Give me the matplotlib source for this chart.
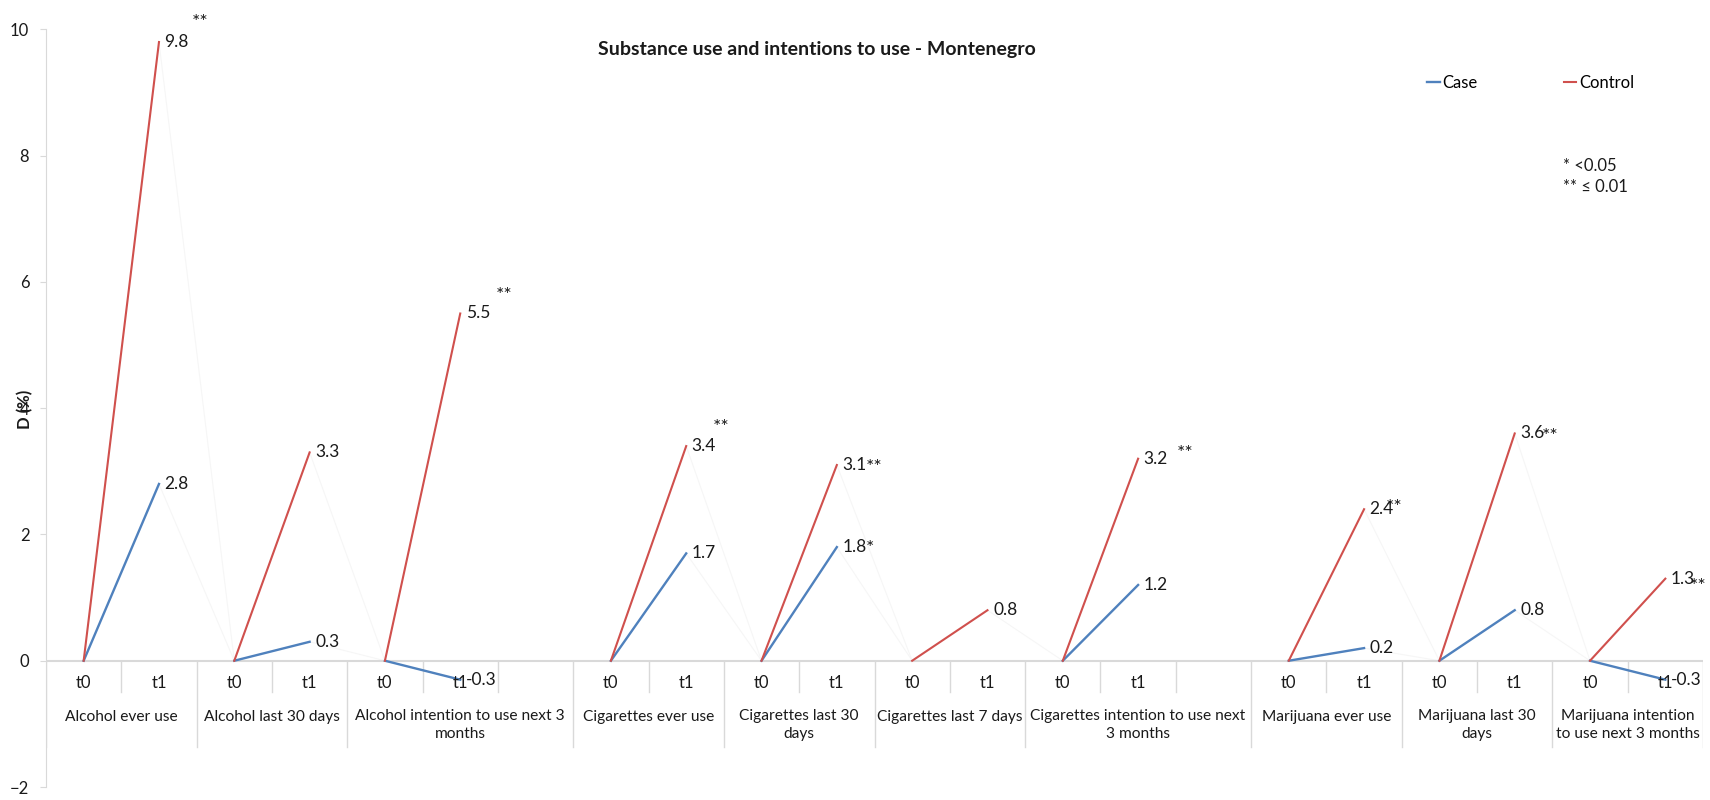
"""
Substance use and intentions to use - Montenegro (case vs control, t0 -> t1).
"""
import numpy as np
import matplotlib
matplotlib.use('Agg')
import matplotlib.pyplot as plt

plt.rcParams['font.family'] = ['Lato', 'DejaVu Sans']

groups = ['Alcohol ever use', 'Alcohol last 30 days',
          'Alcohol intention to use next 3\nmonths', 'Cigarettes ever use',
          'Cigarettes last 30\ndays', 'Cigarettes last 7 days',
          'Cigarettes intention to use next\n3 months', 'Marijuana ever use',
          'Marijuana last 30\ndays', 'Marijuana intention\nto use next 3 months']
n_slots = [2, 2, 3, 2, 2, 2, 3, 2, 2, 2]   # 3 = one empty slot after t1
times = ['t0', 't1']

case_t0 = [0, 0, 0, 0, 0, 0, 0, 0, 0, 0]
case_t1 = [2.8, 0.3, -0.3, 1.7, 1.8, np.nan, 1.2, 0.2, 0.8, -0.3]
control_t0 = [0, 0, 0, 0, 0, 0, 0, 0, 0, 0]
control_t1 = [9.8, 3.3, 5.5, 3.4, 3.1, 0.8, 3.2, 2.4, 3.6, 1.3]

case_sig = ['', '', '', '', '*', '', '', '', '', '']
control_sig = ['**', '', '**', '**', '**', '', '**', '**', '**', '**']

# where each star mark sits, relative to its t1 point (slots, D units)
case_sig_pos = {4: (0.44, -0.02)}
control_sig_pos = {0: (0.55, 0.31), 2: (0.58, 0.28), 3: (0.46, 0.3), 4: (0.5, -0.04),
                   6: (0.63, 0.08), 7: (0.4, 0.02), 8: (0.47, -0.05), 9: (0.43, -0.12)}

BLUE = '#4f81bd'
RED = '#d0504d'
GREY = '#d9d9d9'
TXT = '#1a1a1a'

starts = np.concatenate([[0], np.cumsum(n_slots)[:-1]])
n_total = sum(n_slots)

# full series over all slots (gaps stay NaN) -> faint joining lines like the Excel chart
case_all = np.full(n_total, np.nan)
ctrl_all = np.full(n_total, np.nan)
for g, s in enumerate(starts):
    case_all[s], case_all[s + 1] = case_t0[g], case_t1[g]
    ctrl_all[s], ctrl_all[s + 1] = control_t0[g], control_t1[g]

fig = plt.figure(figsize=(17.1, 8), dpi=100)
ax = fig.add_axes([46 / 1710, 1 - 787 / 800, (1703 - 46) / 1710, (787 - 29.4) / 800])

xs = np.arange(n_total)
ax.plot(xs, case_all, color='#f6f6f6', lw=0.8, zorder=1)
ax.plot(xs, ctrl_all, color='#f6f6f6', lw=0.8, zorder=1)

for g, s in enumerate(starts):
    x0, x1 = s, s + 1
    ax.plot([x0, x1], [case_t0[g], case_t1[g]], color=BLUE, lw=1.7, zorder=3,
            label='Case' if g == 0 else None)
    ax.plot([x0, x1], [control_t0[g], control_t1[g]], color=RED, lw=1.5, zorder=4,
            label='Control' if g == 0 else None)
    for v in (case_t1[g], control_t1[g]):
        if not np.isnan(v):
            ax.annotate(f'{v:.1f}', (x1, v), xytext=(4, 0), textcoords='offset points',
                        ha='left', va='center', fontsize=12.5, color=TXT, zorder=5)
    if case_sig[g]:
        dx, dy = case_sig_pos[g]
        ax.text(x1 + dx, case_t1[g] + dy, case_sig[g], ha='center', va='center',
                fontsize=14, color=TXT, zorder=6)
    if control_sig[g]:
        dx, dy = control_sig_pos[g]
        ax.text(x1 + dx, control_t1[g] + dy, control_sig[g], ha='center', va='center',
                fontsize=14, color=TXT, zorder=6)

    # category axis: t0/t1 row and group name row
    for k, t in enumerate(times):
        ax.text(s + k, -0.36, t, ha='center', va='center', fontsize=12, color=TXT)
    two_lines = '\n' in groups[g]
    ax.text(s + (n_slots[g] - 1) / 2, -0.77 if two_lines else -0.89, groups[g],
            ha='center', va='top' if two_lines else 'center',
            fontsize=11.2, color=TXT, linespacing=1.3)
    for k in range(1, n_slots[g]):
        ax.plot([s + k - 0.5] * 2, [0, -0.5], color=GREY, lw=1, zorder=2)
    ax.plot([s - 0.5] * 2, [0, -1.36], color=GREY, lw=1, zorder=2)
ax.plot([n_total - 0.5] * 2, [0, -1.36], color=GREY, lw=1, zorder=2)

ax.axhline(0, color=GREY, lw=1.5, zorder=2)

ax.set_xlim(-0.5, n_total - 0.5)
ax.set_ylim(-2, 10)
ax.set_yticks(np.arange(-2, 11, 2))
ax.set_xticks([])
ax.tick_params(axis='y', length=4, color=GREY, pad=8, labelsize=12, labelcolor=TXT)
for side in ['top', 'right', 'bottom']:
    ax.spines[side].set_visible(False)
ax.spines['left'].set_color(GREY)

fig.text(25 / 1710, 1 - 409 / 800, 'D (%)', rotation=90, ha='center', va='center',
         fontsize=12, fontweight='bold', color=TXT)
fig.text(817 / 1710, 1 - 50 / 800, 'Substance use and intentions to use - Montenegro',
         ha='center', va='center', fontsize=14, fontweight='bold', color=TXT)

ax.legend(loc='center left', bbox_to_anchor=(1427 / 1710, 1 - 83 / 800),
          bbox_transform=fig.transFigure, ncol=2, frameon=False, fontsize=12,
          handlelength=0.75, handletextpad=0.15, columnspacing=5.2,
          borderpad=0, borderaxespad=0)

fig.text(1563 / 1710, 1 - 166 / 800, '* <0.05', ha='left', va='center', fontsize=12, color=TXT)
fig.text(1563 / 1710, 1 - 187 / 800, '** \u2264 0.01', ha='left', va='center', fontsize=12,
         color=TXT, family=['Lato', 'DejaVu Sans'])

fig.savefig('out.png', dpi=100)
